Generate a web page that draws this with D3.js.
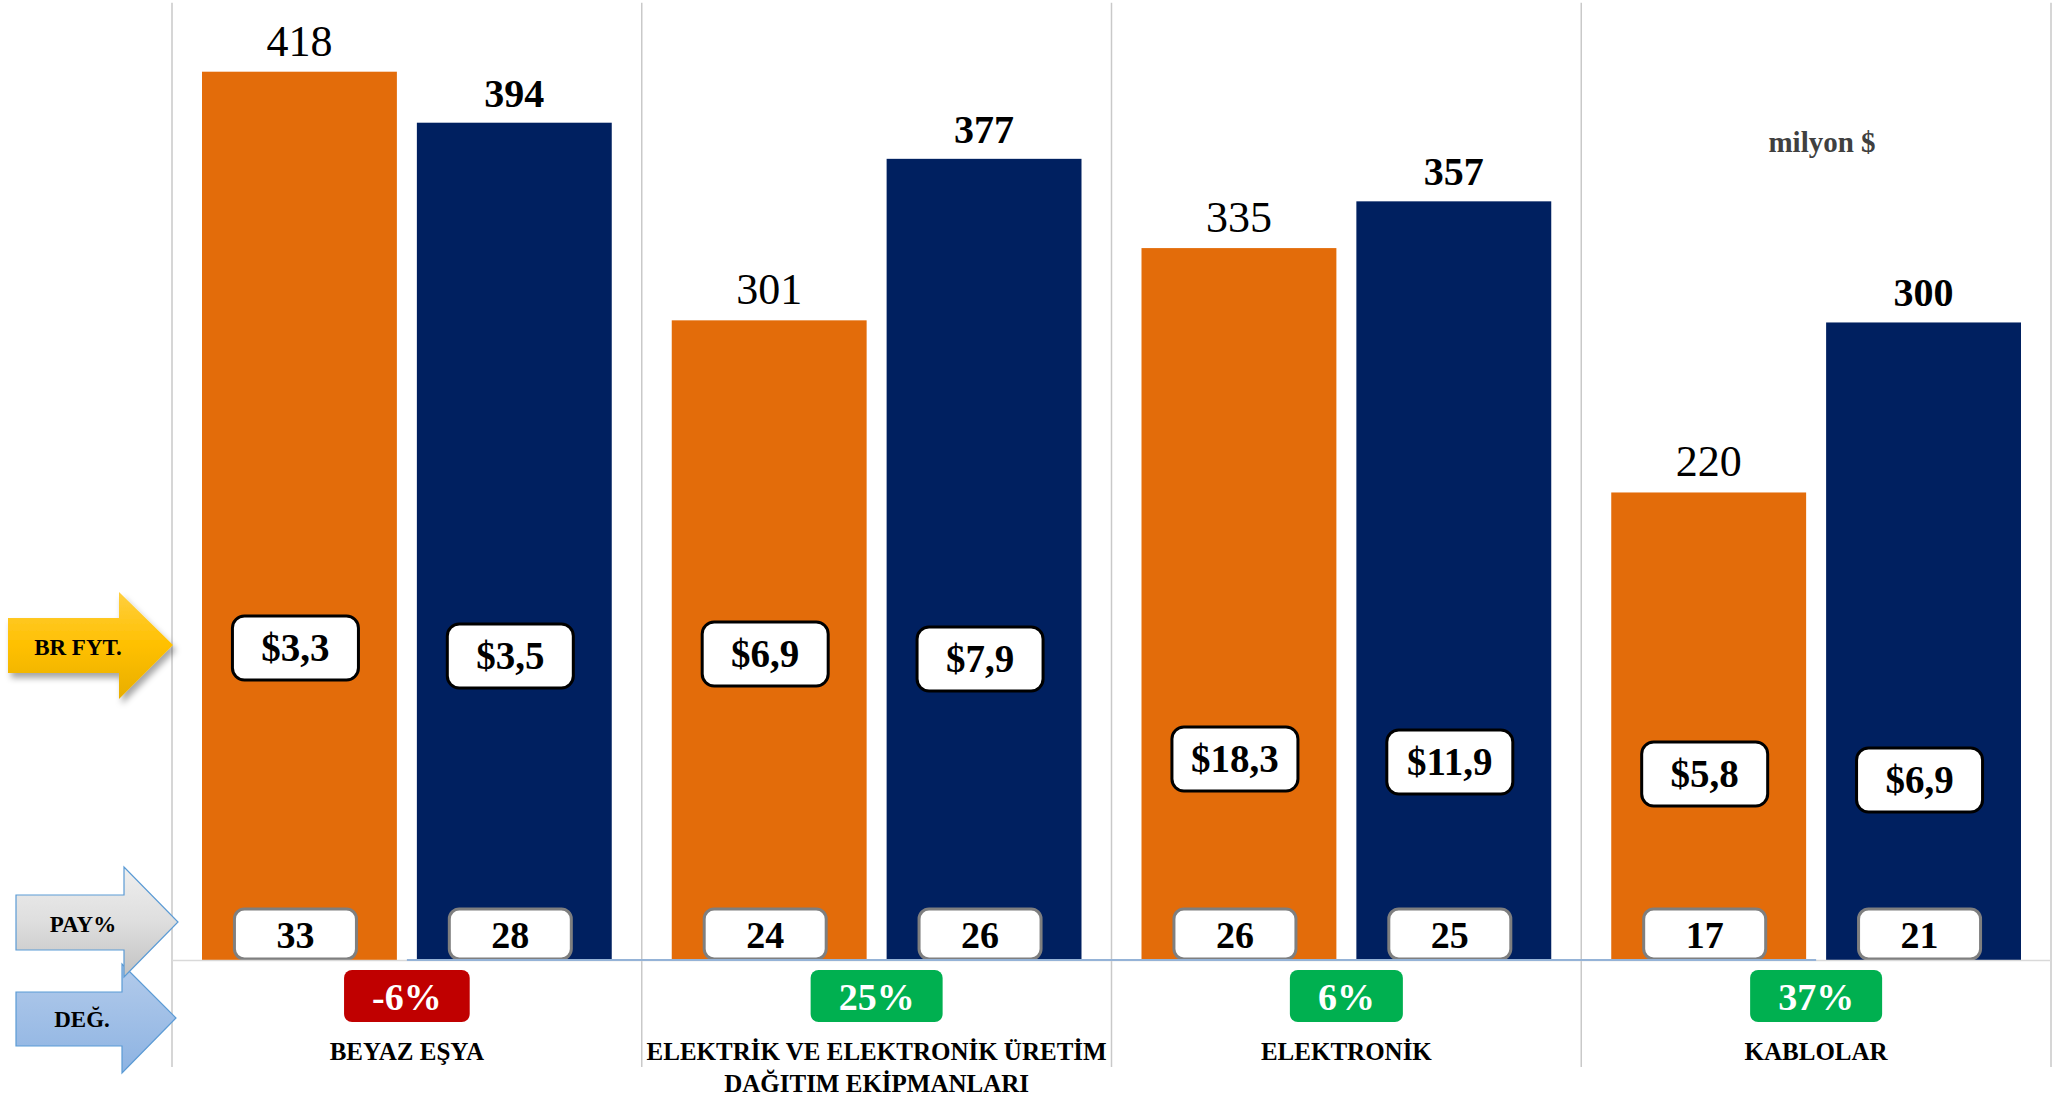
<!DOCTYPE html>
<html><head><meta charset="utf-8">
<script src="https://cdn.jsdelivr.net/npm/d3@7"></script>
<style>
body{margin:0;background:#fff;}
svg{display:block;}
text{font-family:"Liberation Serif","DejaVu Serif",serif;}
</style>
</head><body>
<svg id="c" width="2055" height="1096"></svg>
<script>
// ---------- DATA ----------
const categories = ["BEYAZ EŞYA", "ELEKTRİK VE ELEKTRONİK ÜRETİM DAĞITIM EKİPMANLARI", "ELEKTRONİK", "KABLOLAR"];
const categoryLines = [["BEYAZ EŞYA"], ["ELEKTRİK VE ELEKTRONİK ÜRETİM", "DAĞITIM EKİPMANLARI"], ["ELEKTRONİK"], ["KABLOLAR"]];
const series = ["Dönem 1", "Dönem 2"];
const valuesA = [418, 301, 335, 220];
const valuesB = [394, 377, 357, 300];
const unitPriceA = ["$3,3", "$6,9", "$18,3", "$5,8"];
const unitPriceB = ["$3,5", "$7,9", "$11,9", "$6,9"];
const shareA = [33, 24, 26, 17];
const shareB = [28, 26, 25, 21];
const changePct = [-6, 25, 6, 37];
const unitLabel = "milyon $";
const rowLabels = ["BR FYT.", "PAY%", "DEĞ."];

// ---------- LAYOUT ----------
const W = 2055, H = 1096;
const plotLeft = 172, plotRight = 2051, plotTop = 3.7, baseY = 960;
const priceBoxCY = [[648, 656], [654, 659], [759, 762], [774, 780]];
const colors = { a: "#e36c0a", b: "#002060" };

const svg = d3.select("#c");
const defs = svg.append("defs");

function grad(id, stops) {
  const g = defs.append("linearGradient").attr("id", id).attr("x1", 0).attr("y1", 0).attr("x2", 0).attr("y2", 1);
  stops.forEach(s => g.append("stop").attr("offset", s[0]).attr("stop-color", s[1]));
}
grad("gYellow", [[0, "#ffcf3f"], [0.5, "#ffc000"], [1, "#e8ae00"]]);
grad("gGray", [[0, "#efefef"], [0.5, "#dedede"], [1, "#c2c2c2"]]);
grad("gBlue", [[0, "#b3cbeb"], [1, "#8db3e2"]]);
const f = defs.append("filter").attr("id", "shadow").attr("x", "-20%").attr("y", "-20%").attr("width", "150%").attr("height", "160%");
f.append("feDropShadow").attr("dx", 3).attr("dy", 5).attr("stdDeviation", 3).attr("flood-color", "#000").attr("flood-opacity", 0.35);

const x0 = d3.scaleBand().domain(categories).range([plotLeft, plotRight]).padding(0);
const bw = x0.bandwidth();
const x1 = d3.scaleBand().domain(series).range([30, bw - 30]).paddingInner(20 / 215).paddingOuter(0);
const y = d3.scaleLinear().domain([0, 450]).range([baseY, plotTop]);

const data = categories.map((c, i) => ({
  cat: c, i,
  bars: [
    { s: series[0], v: valuesA[i], price: unitPriceA[i], share: shareA[i], color: colors.a, bold: false, py: priceBoxCY[i][0] },
    { s: series[1], v: valuesB[i], price: unitPriceB[i], share: shareB[i], color: colors.b, bold: true, py: priceBoxCY[i][1] }
  ]
}));

// vertical separators
const seps = categories.map(c => x0(c)).concat([plotRight]);
svg.append("g").selectAll("line").data(seps).join("line")
  .attr("x1", d => d).attr("x2", d => d).attr("y1", plotTop - 1).attr("y2", 1067)
  .attr("stroke", "#c9c9c9").attr("stroke-width", 1.5);

// bars
const g = svg.append("g").selectAll("g").data(data).join("g")
  .attr("transform", d => `translate(${x0(d.cat)},0)`);

g.selectAll("rect.bar").data(d => d.bars).join("rect").attr("class", "bar")
  .attr("x", d => x1(d.s)).attr("width", x1.bandwidth())
  .attr("y", d => y(d.v)).attr("height", d => y(0) - y(d.v))
  .attr("fill", d => d.color);

// value labels
g.selectAll("text.val").data(d => d.bars).join("text").attr("class", "val")
  .attr("x", d => x1(d.s) + x1.bandwidth() / 2).attr("y", d => y(d.v) - 16)
  .attr("text-anchor", "middle")
  .attr("font-size", d => d.bold ? 40 : 44)
  .attr("font-weight", d => d.bold ? "bold" : "normal")
  .attr("fill", "#000").text(d => d.v);

// axis line
svg.append("line").attr("x1", plotLeft).attr("x2", plotRight).attr("y1", baseY + 0.5).attr("y2", baseY + 0.5)
  .attr("stroke", "#d9d9d9").attr("stroke-width", 1.5);
svg.append("line")
  .attr("x1", x0(categories[0]) + bw / 2).attr("x2", x0(categories[3]) + bw / 2)
  .attr("y1", baseY).attr("y2", baseY).attr("stroke", "#95b3d7").attr("stroke-width", 2);

// unit price boxes
const pb = g.selectAll("g.price").data(d => d.bars).join("g").attr("class", "price")
  .attr("transform", d => `translate(${x1(d.s) + x1.bandwidth() / 2 - 4},${d.py})`);
pb.append("rect").attr("x", -63).attr("y", -32).attr("width", 126).attr("height", 64)
  .attr("rx", 12).attr("fill", "#fff").attr("stroke", "#000").attr("stroke-width", 3);
pb.append("text").attr("text-anchor", "middle").attr("y", 13).attr("font-size", 39).attr("font-weight", "bold")
  .text(d => d.price);

// share boxes
const sb = g.selectAll("g.share").data(d => d.bars).join("g").attr("class", "share")
  .attr("transform", d => `translate(${x1(d.s) + x1.bandwidth() / 2 - 4},934)`);
sb.append("rect").attr("x", -61).attr("y", -25).attr("width", 122).attr("height", 50)
  .attr("rx", 10).attr("fill", "#fff").attr("stroke", "#7f7f7f").attr("stroke-width", 3);
sb.append("text").attr("text-anchor", "middle").attr("y", 14).attr("font-size", 38).attr("font-weight", "bold")
  .text(d => d.share);

// change badges
const fmtPct = v => `${v}%`;
const cb = svg.append("g").selectAll("g").data(data).join("g")
  .attr("transform", d => `translate(${x0(d.cat) + bw / 2},996)`);
const cbr = cb.append("rect").attr("rx", 8)
  .attr("fill", d => changePct[d.i] < 0 ? "#c00000" : "#00b050");
const cbt = cb.append("text").attr("text-anchor", "middle").attr("y", 14).attr("font-size", 38).attr("font-weight", "bold")
  .attr("fill", "#fff").text(d => fmtPct(changePct[d.i]));
cbt.each(function () {
  const w = this.getBBox().width;
  d3.select(this.previousSibling).attr("x", -(w / 2 + 28)).attr("width", w + 56).attr("y", -26).attr("height", 52);
});

// category labels
const cl = svg.append("g").selectAll("text").data(data).join("text")
  .attr("text-anchor", "middle").attr("font-size", 25).attr("font-weight", "bold").attr("fill", "#000");
cl.selectAll("tspan").data(d => categoryLines[d.i].map(t => ({ t, x: x0(d.cat) + bw / 2 }))).join("tspan")
  .attr("x", d => d.x).attr("y", (d, j) => 1060 + j * 32).text(d => d.t);

// unit label
svg.append("text").attr("x", 1822).attr("y", 152).attr("text-anchor", "middle")
  .attr("font-size", 29).attr("font-weight", "bold").attr("fill", "#404040").text(unitLabel);

// left arrows
const arrows = [
  { p: "M8,618 L119,618 L119,592 L173,645 L119,699 L119,673 L8,673 Z", fill: "url(#gYellow)", stroke: "none", filter: "url(#shadow)", tx: 78, ty: 655, label: rowLabels[0] },
  { p: "M16,992 L122,992 L122,964 L176,1018 L122,1073 L122,1046 L16,1046 Z", fill: "url(#gBlue)", stroke: "#5b9bd5", filter: null, tx: 82, ty: 1027, label: rowLabels[2] },
  { p: "M16,895 L124,895 L124,867 L178,922 L124,977 L124,950 L16,950 Z", fill: "url(#gGray)", stroke: "#5b9bd5", filter: null, tx: 83, ty: 932, label: rowLabels[1] }
];
const ag = svg.append("g").selectAll("g").data(arrows).join("g");
ag.append("path").attr("d", d => d.p).attr("fill", d => d.fill).attr("stroke", d => d.stroke)
  .attr("stroke-width", 1.2).attr("filter", d => d.filter);
ag.append("text").attr("x", d => d.tx).attr("y", d => d.ty).attr("text-anchor", "middle")
  .attr("font-size", 23).attr("font-weight", "bold").attr("fill", "#000").text(d => d.label);
</script>
</body></html>
